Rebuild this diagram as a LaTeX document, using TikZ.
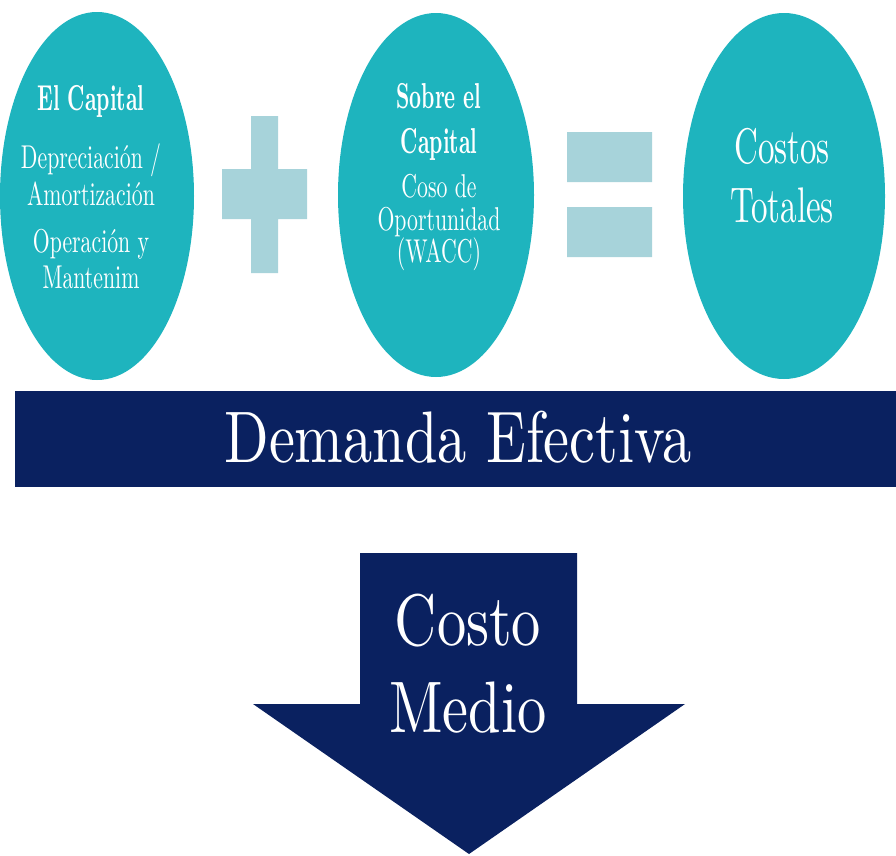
\documentclass[tikz,border=0pt]{standalone}
\usepackage{fontspec}
\setmainfont{lmroman10-regular.otf}[BoldFont=lmroman10-bold.otf,FakeStretch=0.8]
\newfontfamily\narrowfont{lmroman10-regular.otf}[FakeStretch=0.66,
  BoldFont=lmroman10-bold.otf,BoldFeatures={FakeStretch=0.58}]
\usepackage{xcolor}
\usepackage{tikz}
\usetikzlibrary{shapes.geometric}

\definecolor{bubbleTeal}{HTML}{1EB4BE}
\definecolor{signBlue}{HTML}{A7D3DA}
\definecolor{navy}{HTML}{0A2160}

\begin{document}
\begin{tikzpicture}[x=1pt,y=-1pt,
bubble/.style={ellipse,fill=bubbleTeal,inner sep=0pt},
head/.style={anchor=base,text=white,font=\narrowfont\fontsize{36}{40}\selectfont\bfseries},
small/.style={anchor=base,text=white,font=\narrowfont\fontsize{33}{38}\selectfont},
big/.style={anchor=base,text=white,font=\narrowfont\fontsize{50}{56}\selectfont},
huge/.style={anchor=base,text=white,font=\fontsize{73}{80}\selectfont}]
\useasboundingbox (0,0) rectangle (896,855);

% three bubbles
\node[bubble,minimum width=194pt,minimum height=368pt] (capital) at (97,196) {};
\node[bubble,minimum width=196pt,minimum height=364pt] (sobre) at (436,195) {};
\node[bubble,minimum width=202pt,minimum height=366pt] (totales) at (784,196) {};

\node[head] (t1) at (91,110) {El Capital};
\node[small] (t2) at (91,168) {Depreciación /};
\node[small] (t3) at (91,205) {Amortización};
\node[small] (t4) at (91,252) {Operación y};
\node[small] (t5) at (91,288) {Mantenim};

\node[head] (s1) at (439,108) {Sobre el};
\node[head] (s2) at (439,153) {Capital};
\node[small] (s3) at (439,197) {Coso de};
\node[small] (s4) at (439,230) {Oportunidad};
\node[small] (s5) at (439,262) {(WACC)};

\node[big] (c1) at (782,163) {Costos};
\node[big] (c2) at (782,222) {Totales};

% plus and equals
\fill[signBlue] (251,116) rectangle (278,273) (222,169) rectangle (307,219);
\fill[signBlue] (567,132) rectangle (652,182) (567,207) rectangle (652,257);

% banner
\fill[navy] (15,391) rectangle (896,487);
\node[huge] (demanda) at (458,462) {Demanda Efectiva};

% down arrow
\fill[navy] (360,553) -- (577,553) -- (577,704) -- (685,704) -- (469,854)
  -- (253,704) -- (360,704) -- cycle;
\node[huge] (m1) at (468,645) {Costo};
\node[huge] (m2) at (468,732) {Medio};
\end{tikzpicture}
\end{document}
